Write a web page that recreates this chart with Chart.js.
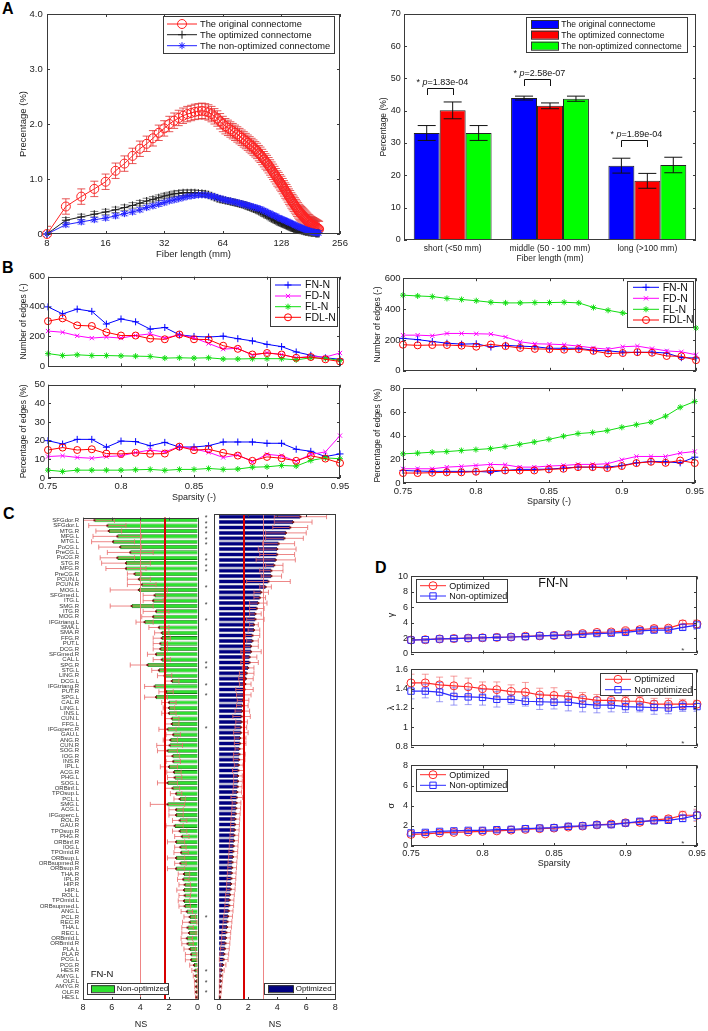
<!DOCTYPE html>
<html>
<head>
<meta charset="utf-8">
<script src="https://cdn.jsdelivr.net/npm/chart.js"></script>
<style>
  body { margin: 0; background: #fff; overflow: hidden; }
  #figure { position: relative; width: 708px; height: 1031px; overflow: hidden; background: #fff; }
  #figure canvas { position: absolute; }
  .tag { position: absolute; font: bold 16px "Liberation Sans", Arial, sans-serif; line-height: 1; color: #000; }
</style>
</head>
<body>
<div id="figure">
  <div class="tag" style="left:2px;top:1px">A</div>
  <div class="tag" style="left:2px;top:260px">B</div>
  <div class="tag" style="left:3px;top:506px">C</div>
  <div class="tag" style="left:375px;top:560px">D</div>
</div>
<script>
// ---- panel A (left): fibre length distribution ----
const fiberLength = [8,10,12,14,16,18,20,22,24,26,28,30,32,34,36,38,40,42,44,46,48,50,52,54,56,58,60,62,64,66,68,70,72,74,76,78,80,82,84,86,88,90,92,94,96,98,100,102,104,106,108,110,112,114,116,118,120,122,124,126,128,130,132,134,136,138,140,142,144,146,148,150,152,154,156,158,160,162,164,166,168,170,172,174,176,178,180,182,184,186,188,190,192,194,196,198,200];
const fiberTicks = [8, 16, 32, 64, 128, 256];
const originalPct = [0,0.50,0.68,0.82,0.95,1.15,1.28,1.42,1.55,1.64,
  1.74,1.84,1.92,2.00,2.06,2.11,2.15,2.18,2.20,2.22,
  2.23,2.24,2.23,2.21,2.18,2.14,2.10,2.05,2.00,1.96,
  1.93,1.90,1.87,1.84,1.81,1.78,1.75,1.72,1.69,1.66,
  1.63,1.60,1.57,1.54,1.51,1.47,1.44,1.40,1.36,1.32,
  1.29,1.25,1.21,1.17,1.13,1.09,1.05,1.01,0.98,0.94,
  0.91,0.87,0.83,0.79,0.76,0.72,0.68,0.65,0.61,0.58,
  0.55,0.52,0.49,0.46,0.43,0.40,0.38,0.36,0.34,0.32,
  0.30,0.28,0.26,0.24,0.22,0.21,0.19,0.18,0.17,0.16,
  0.15,0.14,0.13,0.12,0.11,0.10,0.09];
const optimizedPct = [0,0.25,0.31,0.36,0.40,0.44,0.48,0.52,0.56,0.60,
  0.63,0.66,0.69,0.71,0.73,0.74,0.75,0.75,0.75,0.75,
  0.74,0.74,0.73,0.71,0.69,0.67,0.65,0.63,0.62,0.61,
  0.60,0.59,0.58,0.57,0.56,0.55,0.54,0.53,0.52,0.50,
  0.49,0.48,0.46,0.45,0.44,0.42,0.41,0.39,0.37,0.36,
  0.34,0.33,0.31,0.29,0.28,0.26,0.25,0.24,0.22,0.21,
  0.20,0.19,0.18,0.17,0.16,0.15,0.14,0.13,0.12,0.11,
  0.10,0.10,0.09,0.08,0.08,0.07,0.07,0.06,0.06,0.05,
  0.05,0.04,0.04,0.04,0.03,0.03,0.03,0.02,0.02,0.02,
  0.02,0.02,0.01,0.01,0.01,0.01,0.01];
const nonOptimizedPct = [0,0.17,0.22,0.26,0.29,0.33,0.37,0.40,0.44,0.48,
  0.51,0.54,0.57,0.60,0.62,0.64,0.66,0.68,0.69,0.70,
  0.71,0.71,0.71,0.70,0.69,0.68,0.66,0.65,0.63,0.62,
  0.61,0.60,0.59,0.58,0.57,0.56,0.55,0.54,0.53,0.52,
  0.51,0.50,0.49,0.48,0.47,0.46,0.45,0.43,0.42,0.41,
  0.39,0.38,0.37,0.35,0.34,0.33,0.32,0.30,0.29,0.28,
  0.27,0.26,0.25,0.24,0.23,0.22,0.21,0.20,0.19,0.18,
  0.17,0.16,0.15,0.14,0.13,0.12,0.12,0.11,0.10,0.09,
  0.09,0.08,0.07,0.07,0.06,0.06,0.05,0.05,0.04,0.04,
  0.03,0.03,0.03,0.02,0.02,0.02,0.02];
const originalErr = 0.14;
const optimizedErr = 0.05;
const nonOptimizedErr = 0.04;

// ---- panel A (right): length classes ----
const lengthGroups = ["short (<50 mm)", "middle (50 - 100 mm)", "long (>100 mm)"];
const groupOriginal = [33.1, 43.9, 23.0];
const groupOriginalErr = [2.3, 0.6, 2.3];
const groupOptimized = [40.1, 41.5, 18.3];
const groupOptimizedErr = [2.6, 0.9, 2.3];
const groupNonOptimized = [33.1, 43.7, 23.2];
const groupNonOptimizedErr = [2.3, 0.8, 2.4];
const pValues = ["1.83e-04", "2.58e-07", "1.89e-04"];
const bracketLevel = [47.0, 49.8, 30.8];

// ---- panel B: edges per sparsity ----
const sparsity = [0.75,0.76,0.77,0.78,0.79,0.80,0.81,0.82,0.83,0.84,0.85,0.86,0.87,0.88,0.89,0.90,0.91,0.92,0.93,0.94,0.95];
const sparsityTicks = [0.75, 0.8, 0.85, 0.9, 0.95];
const fnEdgesL = [398,351,383,368,283,317,298,249,260,211,200,196,202,185,170,147,132,96,74,57,47];
const fdEdgesL = [236,228,204,189,196,189,206,217,189,211,191,153,115,121,74,91,79,57,66,62,89];
const flEdgesL = [85,72,77,72,72,70,68,66,55,57,55,57,49,49,51,51,51,43,57,53,40];
const fdlEdgesL = [302,321,274,270,228,206,206,185,181,213,181,179,138,117,79,89,79,57,62,47,32];
const fnPctL = [20,18.2,20.7,20.7,16.5,19.8,19.5,17.3,19.1,16.6,16.6,17.3,19.3,19.3,19.3,18.6,18.6,15.4,14.3,11.5,12.9];
const fdPctL = [11.5,11.9,11,10.6,11.5,11.9,13.6,15,14,16.8,15.6,13.8,11,12.4,8.7,12.7,11.9,9,12.6,14,22.7];
const flPctL = [4.2,3.5,4.2,4.2,4.2,4.2,4.4,4.6,4.1,4.6,4.6,5.1,4.6,4.8,5.8,6,6.7,6.4,9.4,10.8,10.3];
const fdlPctL = [15,16.3,15,15.4,13.1,12.9,13.5,12.9,13.1,16.8,14.9,15.4,13.5,12,9.2,11.3,10.6,9.2,11.9,10.4,8];
const fnEdgesR = [210,202,190,179,173,175,154,165,160,156,146,146,146,133,129,121,119,121,115,85,83];
const fdEdgesR = [231,231,227,242,242,240,238,219,188,175,173,169,160,148,140,156,160,144,129,123,104];
const flEdgesR = [490,485,481,469,462,454,444,440,440,442,442,444,440,410,392,375,360,345,330,305,277];
const fdlEdgesR = [169,165,167,167,163,156,171,160,148,142,140,137,140,129,112,115,121,117,96,94,69];
const fnPctR = [10.6,10.1,9.8,9.8,9.8,9.8,9.2,10.6,11.5,11.5,11.7,12.6,13.4,13.4,13.4,14.8,17,18.2,17.9,17,21.8];
const fdPctR = [12,12,12,13.4,14,14.8,15.7,15.4,13.4,13.4,14.3,14.8,15.7,15.7,16.2,19.6,22.4,22.4,22.4,25.2,26.6];
const flPctR = [24.6,25.2,26,26.5,27.4,28.2,29,30.7,32.6,34.6,36.8,39.5,41.7,42.6,44.2,47,49.2,51.4,56.4,63.9,68.8];
const fdlPctR = [8.4,8.4,8.7,9,9,9.5,10.6,10.6,10.6,10.6,11.5,12,13.4,13.4,12.6,14.3,16.8,17.9,17,19,16.8];

// ---- panel C: nodal NS per region ----
const regions = ["SFGdor.R","SFGdor.L","MTG.R","MFG.L","MTG.L","PoCG.L","PreCG.L","PoCG.R","STG.R","MFG.R",
  "PreCG.R","PCUN.L","PCUN.R","MOG.L","SFGmed.L","ITG.L","SMG.R","ITG.R","MOG.R","IFGtriang.L",
  "SMA.L","SMA.R","FFG.R","PUT.L","DCG.R","SFGmed.R","CAL.L","SPG.R","STG.L","LING.R",
  "DCG.L","IFGtriang.R","PUT.R","SPG.L","CAL.R","LING.L","INS.L","CUN.L","FFG.L","IFGoperc.R",
  "GAU.L","ANG.R","CUN.R","SOG.R","IOG.R","INS.R","IPL.L","ACG.R","PHG.L","SOG.L",
  "ORBinf.L","TPOsup.L","PCL.L","SMG.L","ACG.L","IFGoperc.L","ROL.R","GAU.R","TPOsup.R","PHG.R",
  "ORBinf.R","IOG.L","TPOmid.R","ORBsup.L","ORBsupmed.R","ORBsup.R","THA.R","IPL.R","HIP.R","HIP.L",
  "ROL.L","TPOmid.L","ORBsupmed.L","ANG.L","PCL.R","REC.R","THA.L","REC.L","ORBmid.L","ORBmid.R",
  "PLA.L","PLA.R","PCG.L","PCG.R","HES.R","AMYG.L","OLF.L","AMYG.R","OLF.R","HES.L"];
const nonOptNS = [7.2,6.3,6.2,5.6,5.9,5.4,4.7,5.6,5.0,5.0,
  4.4,4.1,3.9,4.1,3.0,3.1,4.6,2.9,3.1,3.7,
  2.7,2.5,2.5,2.6,2.6,2.9,2.5,3.5,2.7,2.3,
  1.8,3.0,2.2,2.9,2.0,2.0,2.0,1.8,1.8,2.1,
  1.7,1.9,1.95,2.1,1.75,1.7,2.0,1.65,1.6,2.1,
  1.75,1.5,1.25,2.1,1.5,1.5,1.25,1.6,1.25,1.1,
  1.5,1.2,1.15,1.5,1.2,1.5,0.95,1.0,0.9,0.95,
  0.9,0.95,0.9,0.75,0.55,0.55,0.7,0.6,0.75,0.7,
  0.55,0.45,0.45,0.25,0.2,0.15,0.12,0.1,0.1,0.08];
const nonOptErr = [1.4,1.3,0.9,1.7,1.5,1.5,1.6,1.2,1.7,1.4,
  0.5,0.8,1.0,2.0,0.8,0.7,1.5,0.9,0.8,0.6,
  0.7,0.5,0.6,0.5,0.5,0.6,0.6,1.2,0.5,0.5,
  0.5,0.7,0.5,0.8,0.5,0.4,0.5,0.5,0.5,0.6,
  0.5,0.5,0.9,0.7,0.5,0.5,0.6,0.5,0.5,0.7,
  0.5,0.4,0.4,1.2,0.5,0.5,0.5,0.6,0.5,0.5,
  0.6,0.4,0.5,0.6,0.4,0.6,0.4,0.4,0.4,0.5,
  0.4,0.4,0.4,0.4,0.4,0.5,0.4,0.5,0.4,0.4,
  0.4,0.4,0.4,0.3,0.2,0.15,0.1,0.1,0.08,0.06];
const optNS = [5.6,5.1,4.9,4.6,4.5,4.1,4.0,4.0,3.9,3.8,
  3.6,3.6,3.4,3.2,2.9,2.8,2.7,2.6,2.5,2.5,
  2.4,2.4,2.3,2.3,2.2,2.2,2.1,2.1,2.0,1.9,
  1.85,1.8,1.75,1.7,1.65,1.6,1.6,1.55,1.55,1.5,
  1.5,1.45,1.45,1.4,1.4,1.38,1.35,1.33,1.3,1.3,
  1.28,1.25,1.22,1.2,1.18,1.15,1.12,1.1,1.08,1.05,
  1.03,1.0,0.98,0.95,0.92,0.9,0.87,0.85,0.82,0.8,
  0.75,0.72,0.7,0.66,0.62,0.58,0.55,0.5,0.47,0.44,
  0.4,0.36,0.32,0.27,0.2,0.15,0.12,0.1,0.08,0.06];
const optErr = [1.8,1.3,1.2,1.4,1.3,1.1,1.3,1.2,1.35,0.6,
  0.8,0.7,1.5,0.4,0.5,0.4,0.6,0.5,0.4,0.6,
  0.3,0.4,0.5,0.4,0.5,0.7,0.5,0.6,0.4,0.5,
  0.5,0.4,0.6,0.5,0.4,0.4,0.5,0.6,0.4,0.4,
  0.5,0.4,0.4,0.3,0.4,0.4,0.3,0.4,0.3,0.3,
  0.3,0.3,0.4,0.3,0.3,0.3,0.3,0.3,0.3,0.3,
  0.3,0.3,0.3,0.3,0.3,0.3,0.3,0.3,0.3,0.3,
  0.3,0.3,0.3,0.3,0.3,0.3,0.3,0.3,0.3,0.3,
  0.3,0.3,0.3,0.2,0.15,0.1,0.1,0.08,0.06,0.05];
const nsTicks = [0, 2, 4, 6, 8];
const nonOptThreshold = [2.25, 4.0];
const optThreshold = [1.7, 3.0];
const starRows = [1,2,3,4,5,6,8,9,10,11,14,17,20,28,29,32,34,40,75,85,87,89];

// ---- panel D: small-world metrics ----
const gammaOpt = [1.76,1.8,1.9,1.95,2.0,2.05,2.1,2.15,2.25,2.3,2.35,2.45,2.6,2.75,2.8,2.95,3.1,3.25,3.3,3.85,3.85];
const gammaNon = [1.75,1.8,1.9,1.95,2.0,2.05,2.1,2.15,2.2,2.3,2.35,2.4,2.5,2.6,2.65,2.75,2.95,3.05,3.05,3.4,3.7];
const gammaOptErr = [0.15,0.15,0.15,0.15,0.15,0.15,0.15,0.15,0.15,0.15,0.18,0.2,0.2,0.25,0.25,0.35,0.3,0.35,0.3,0.45,0.5];
const gammaNonErr = [0.12,0.12,0.12,0.12,0.12,0.12,0.12,0.12,0.15,0.15,0.15,0.15,0.2,0.2,0.2,0.25,0.3,0.3,0.3,0.35,0.55];
const lambdaOpt = [1.46,1.46,1.44,1.43,1.42,1.40,1.39,1.37,1.365,1.335,1.33,1.32,1.30,1.28,1.28,1.27,1.27,1.24,1.24,1.24,1.24];
const lambdaNon = [1.375,1.375,1.365,1.32,1.315,1.31,1.29,1.29,1.27,1.265,1.26,1.26,1.24,1.23,1.23,1.215,1.21,1.205,1.2,1.215,1.215];
const lambdaOptErr = [0.09,0.09,0.08,0.1,0.09,0.07,0.08,0.07,0.1,0.07,0.08,0.06,0.06,0.06,0.05,0.05,0.05,0.06,0.06,0.05,0.04];
const lambdaNonErr = [0.08,0.07,0.1,0.09,0.08,0.08,0.08,0.05,0.05,0.08,0.07,0.09,0.08,0.08,0.07,0.06,0.05,0.07,0.06,0.05,0.05];
const sigmaOpt = [1.15,1.2,1.3,1.35,1.4,1.45,1.5,1.58,1.65,1.72,1.78,1.88,1.98,2.1,2.18,2.3,2.35,2.6,2.7,3.05,3.05];
const sigmaNon = [1.3,1.35,1.45,1.5,1.55,1.55,1.62,1.65,1.72,1.78,1.82,1.95,2.0,2.1,2.12,2.28,2.45,2.5,2.55,2.75,3.05];
const sigmaOptErr = [0.12,0.12,0.15,0.15,0.15,0.15,0.15,0.15,0.15,0.15,0.15,0.2,0.2,0.2,0.2,0.25,0.25,0.35,0.3,0.4,0.6];
const sigmaNonErr = [0.1,0.1,0.12,0.12,0.12,0.12,0.12,0.12,0.12,0.15,0.15,0.15,0.15,0.2,0.2,0.2,0.25,0.25,0.3,0.35,0.5];
const starSparsity = 0.94;
const starLevel = [0.5, 0.84, 0.4];

const FONT = '"Liberation Sans", Arial, sans-serif';
Chart.defaults.font.family = FONT;
Chart.defaults.color = "#222";
Chart.defaults.animation = false;
Chart.defaults.events = [];
Chart.defaults.plugins.legend.display = false;
Chart.defaults.plugins.tooltip.enabled = false;

// MATLAB-like box with inward ticks on all four sides
Chart.register({
  id: "matlabAxes",
  afterDraw(chart) {
    const ctx = chart.ctx, a = chart.chartArea;
    ctx.save();
    ctx.strokeStyle = "#3a3a3a";
    ctx.lineWidth = 1;
    for (const id of ["x", "y"]) {
      const s = chart.scales[id];
      if (!s || s.type === "category") continue;
      s.ticks.forEach(t => {
        const p = Math.round(s.getPixelForValue(t.value)) + 0.5;
        ctx.beginPath();
        if (s.isHorizontal()) {
          ctx.moveTo(p, a.bottom); ctx.lineTo(p, a.bottom - 3);
          ctx.moveTo(p, a.top); ctx.lineTo(p, a.top + 3);
        } else {
          ctx.moveTo(a.left, p); ctx.lineTo(a.left + 3, p);
          ctx.moveTo(a.right, p); ctx.lineTo(a.right - 3, p);
        }
        ctx.stroke();
      });
    }
    ctx.strokeRect(Math.round(a.left) + 0.5, Math.round(a.top) + 0.5, Math.round(a.width) - 1, Math.round(a.height) - 1);
    ctx.restore();
  }
});

function axis(min, max, ticks, extra) {
  return Object.assign({
    type: "linear", min: min, max: max,
    grid: { display: false, drawTicks: false },
    border: { display: false },
    afterBuildTicks: s => { s.ticks = ticks.map(v => ({ value: v })); },
    ticks: { autoSkip: false, maxRotation: 0, callback: v => String(+v.toFixed(2)) }
  }, extra || {});
}

function categoryAxis(extra) {
  return Object.assign({
    type: "category",
    grid: { display: false, drawTicks: false },
    border: { display: false },
    ticks: { autoSkip: false, maxRotation: 0 }
  }, extra || {});
}

function buildChart(id, spec, config) {
  const p = spec.plot, m = spec.margin;
  var canvas = document.createElement("canvas");
  canvas.id = id;
  canvas.width = p.w + m.l + m.r;
  canvas.height = p.h + m.t + m.b;
  canvas.style.left = (p.x - m.l) + "px";
  canvas.style.top = (p.y - m.t) + "px";
  document.getElementById("figure").append(canvas);

  const x = config.options.scales.x, y = config.options.scales.y;
  x.afterFit = s => { s.height = m.b; };
  y.afterFit = s => { s.width = m.l; };
  if (spec.xLabels) {
    x.ticks.font = { size: spec.xLabels.size };
    x.ticks.padding = spec.xLabels.at - (p.y + p.h) - spec.xLabels.size * 0.6;
  } else {
    x.ticks.display = false;
  }
  if (spec.yLabels) {
    y.ticks.font = { size: spec.yLabels.size };
    y.ticks.padding = p.x - spec.yLabels.at;
  } else {
    y.ticks.display = false;
  }
  if (spec.xTitle) {
    x.title = { display: true, text: spec.xTitle.text, color: "#222", font: { size: spec.xTitle.size },
      padding: { top: 0, bottom: p.y + p.h + m.b - spec.xTitle.at - spec.xTitle.size * 0.6 } };
  }
  if (spec.yTitle) {
    y.title = { display: true, text: spec.yTitle.text, color: "#222", font: { size: spec.yTitle.size },
      padding: { top: spec.yTitle.at - (p.x - m.l) - spec.yTitle.size * 0.6, bottom: 0 } };
  }
  config.options.layout = { padding: { top: m.t, right: m.r, left: 0, bottom: 0 } };
  config.options.responsive = false;
  config.options.maintainAspectRatio = false;
  return new Chart(canvas, config);
}

function pageOrigin(chart) {
  return [parseFloat(chart.canvas.style.left), parseFloat(chart.canvas.style.top)];
}

function errorBars(sets, cap, onTop) {
  const draw = chart => {
    const ctx = chart.ctx, a = chart.chartArea;
    const horizontal = chart.options.indexAxis === "y";
    const vScale = horizontal ? chart.scales.x : chart.scales.y;
    ctx.save();
    ctx.beginPath();
    ctx.rect(a.left, a.top, a.width, a.height);
    ctx.clip();
    ctx.lineWidth = 1;
    for (const set of sets) {
      const meta = chart.getDatasetMeta(set.dataset);
      const values = chart.data.datasets[set.dataset].data;
      ctx.strokeStyle = set.color;
      meta.data.forEach((el, i) => {
        const raw = values[i];
        const v = typeof raw === "object" ? raw.y : raw;
        const e = Array.isArray(set.errors) ? set.errors[i] : set.errors;
        const lo = vScale.getPixelForValue(v - e), hi = vScale.getPixelForValue(v + e);
        ctx.beginPath();
        if (horizontal) {
          ctx.moveTo(lo, el.y); ctx.lineTo(hi, el.y);
          ctx.moveTo(lo, el.y - cap); ctx.lineTo(lo, el.y + cap);
          ctx.moveTo(hi, el.y - cap); ctx.lineTo(hi, el.y + cap);
        } else {
          ctx.moveTo(el.x, lo); ctx.lineTo(el.x, hi);
          ctx.moveTo(el.x - cap, lo); ctx.lineTo(el.x + cap, lo);
          ctx.moveTo(el.x - cap, hi); ctx.lineTo(el.x + cap, hi);
        }
        ctx.stroke();
      });
    }
    ctx.restore();
  };
  return onTop ? { id: "errorBars", afterDatasetsDraw: draw } : { id: "errorBars", beforeDatasetsDraw: draw };
}

function drawMarker(ctx, ds, x, y) {
  ctx.fillStyle = "rgba(0,0,0,0)";
  ctx.strokeStyle = ds.pointBorderColor || ds.borderColor;
  ctx.lineWidth = 1;
  Chart.helpers.drawPoint(ctx, { pointStyle: ds.pointStyle, radius: ds.pointRadius, borderWidth: 1, rotation: 0 }, x, y);
}

// boxed legend, geometry given in page pixels
function boxLegend(box, fontSize) {
  return {
    id: "boxLegend",
    afterDraw(chart) {
      const ctx = chart.ctx, o = pageOrigin(chart);
      ctx.save();
      ctx.translate(-o[0], -o[1]);
      ctx.fillStyle = "#fff";
      ctx.fillRect(box.x, box.y, box.w, box.h);
      ctx.strokeStyle = "#3a3a3a";
      ctx.lineWidth = 1;
      ctx.strokeRect(box.x + 0.5, box.y + 0.5, box.w, box.h);
      ctx.font = fontSize + "px " + FONT;
      ctx.textBaseline = "middle";
      box.rows.forEach((y, i) => {
        const ds = chart.data.datasets[box.datasets[i]];
        if (box.patch) {
          ctx.fillStyle = ds.backgroundColor;
          ctx.fillRect(box.sample[0], y - box.patch / 2, box.sample[1] - box.sample[0], box.patch);
          ctx.strokeStyle = "#333";
          ctx.strokeRect(box.sample[0] + 0.5, y - box.patch / 2 + 0.5, box.sample[1] - box.sample[0], box.patch);
        } else {
          ctx.strokeStyle = ds.borderColor;
          ctx.lineWidth = 1;
          ctx.beginPath();
          ctx.moveTo(box.sample[0], y); ctx.lineTo(box.sample[1], y);
          ctx.stroke();
          drawMarker(ctx, ds, (box.sample[0] + box.sample[1]) / 2, y);
        }
        ctx.fillStyle = "#111";
        ctx.fillText(ds.label, box.textX, y + 0.5);
      });
      ctx.restore();
    }
  };
}

function caption(text, x, y, size, align) {
  return {
    id: "caption",
    afterDraw(chart) {
      const ctx = chart.ctx, o = pageOrigin(chart);
      ctx.save();
      ctx.font = size + "px " + FONT;
      ctx.fillStyle = "#111";
      ctx.textAlign = align;
      ctx.textBaseline = "middle";
      ctx.fillText(text, x - o[0], y - o[1]);
      ctx.restore();
    }
  };
}

function points(values) {
  return sparsity.map((s, i) => ({ x: s, y: values[i] }));
}

function lineSet(label, values, color, style, radius, order) {
  return {
    label: label, data: points(values), borderColor: color, borderWidth: 1,
    pointStyle: style, pointRadius: radius, pointBorderColor: color, pointBorderWidth: 1,
    pointBackgroundColor: "rgba(0,0,0,0)", tension: 0, clip: false, order: order
  };
}

// ================= A left =================
function drawFiberDistribution() {
  const xy = values => fiberLength.map((f, i) => ({ x: f, y: values[i] }));
  const series = (label, values, color, style, radius, order) => ({
    label: label, data: xy(values), borderColor: color, borderWidth: 1,
    pointStyle: style, pointRadius: radius, pointBorderColor: color, pointBorderWidth: 1,
    pointBackgroundColor: "rgba(0,0,0,0)", tension: 0, clip: false, order: order
  });
  buildChart("fiber-distribution", {
    plot: { x: 47, y: 12, w: 293, h: 222 }, margin: { l: 46, r: 14, t: 8, b: 26 },
    xLabels: { size: 9.5, at: 243 }, yLabels: { size: 9.5, at: 42.7 },
    xTitle: { text: "Fiber length (mm)", size: 9.5, at: 254 },
    yTitle: { text: "Precentage (%)", size: 9.5, at: 23.3 }
  }, {
    type: "line",
    data: { datasets: [
      series("The original connectome", originalPct, "#ff2020", "circle", 4.5, 2),
      series("The optimized connectome", optimizedPct, "#1e1e1e", "cross", 4, 1),
      series("The non-optimized connectome", nonOptimizedPct, "#2020ff", "star", 3.5, 0)
    ] },
    options: { scales: {
      x: axis(8, 256, fiberTicks, { type: "logarithmic" }),
      y: axis(0, 4, [0, 1, 2, 3, 4], { ticks: { callback: v => v === 0 ? "0" : v.toFixed(1) } })
    } },
    plugins: [
      errorBars([
        { dataset: 0, errors: originalErr, color: "rgba(225,45,45,0.8)" },
        { dataset: 1, errors: optimizedErr, color: "rgba(40,40,40,0.6)" },
        { dataset: 2, errors: nonOptimizedErr, color: "rgba(60,60,255,0.6)" }
      ], 4, false),
      boxLegend({ x: 163, y: 16, w: 171, h: 37, rows: [24, 34.7, 45.7], datasets: [0, 1, 2],
        sample: [167, 197], textX: 200 }, 9.3)
    ]
  });
}

// ================= A right =================
const pBrackets = {
  id: "pBrackets",
  afterDatasetsDraw(chart) {
    const ctx = chart.ctx, y = chart.scales.y;
    const first = chart.getDatasetMeta(0), second = chart.getDatasetMeta(1);
    ctx.save();
    ctx.strokeStyle = "#111";
    ctx.fillStyle = "#111";
    ctx.lineWidth = 1;
    pValues.forEach((p, j) => {
      const x0 = Math.round(first.data[j].x) + 0.5, x1 = Math.round(second.data[j].x) + 0.5;
      const yl = Math.round(y.getPixelForValue(bracketLevel[j])) + 0.5;
      ctx.beginPath();
      ctx.moveTo(x0, yl + 6.5); ctx.lineTo(x0, yl); ctx.lineTo(x1, yl); ctx.lineTo(x1, yl + 6.5);
      ctx.stroke();
      let tx = x0 - 11;
      const ty = yl - 3.5;
      ctx.textBaseline = "alphabetic";
      ctx.font = "9px " + FONT;
      ctx.fillText("* ", tx, ty);
      tx += ctx.measureText("* ").width;
      ctx.font = "italic 9px " + FONT;
      ctx.fillText("p", tx, ty);
      tx += ctx.measureText("p").width;
      ctx.font = "9px " + FONT;
      ctx.fillText("=" + p, tx, ty);
    });
    ctx.restore();
  }
};

function drawLengthClasses() {
  const bars = (label, values, color) => ({
    label: label, data: values, backgroundColor: color, borderColor: "#222", borderWidth: 1,
    categoryPercentage: 0.8, barPercentage: 1.0
  });
  buildChart("length-classes", {
    plot: { x: 404, y: 13, w: 292, h: 227 }, margin: { l: 40, r: 10, t: 8, b: 26 },
    xLabels: { size: 8.5, at: 248.3 }, yLabels: { size: 9, at: 400.7 },
    xTitle: { text: "Fiber length (mm)", size: 8.5, at: 258.3 },
    yTitle: { text: "Percentage (%)", size: 8.5, at: 384 }
  }, {
    type: "bar",
    data: { labels: lengthGroups, datasets: [
      bars("The original connectome", groupOriginal, "#0000ff"),
      bars("The optimized connectome", groupOptimized, "#ff0000"),
      bars("The non-optimized connectome", groupNonOptimized, "#00ff00")
    ] },
    options: { scales: {
      x: categoryAxis(),
      y: axis(0, 70, [0, 10, 20, 30, 40, 50, 60, 70])
    } },
    plugins: [
      errorBars([
        { dataset: 0, errors: groupOriginalErr, color: "#111" },
        { dataset: 1, errors: groupOptimizedErr, color: "#111" },
        { dataset: 2, errors: groupNonOptimizedErr, color: "#111" }
      ], 9, true),
      pBrackets,
      boxLegend({ x: 526, y: 17, w: 161, h: 35, rows: [24, 34.7, 45.7], datasets: [0, 1, 2],
        sample: [531, 558], patch: 8, textX: 561.3 }, 8.6)
    ]
  });
}

// ================= B =================
function drawEdgePanel(id, spec, series, yMax, yTicks, legend) {
  return buildChart(id, spec, {
    type: "line",
    data: { datasets: [
      lineSet("FN-N", series[0], "#0000ff", "cross", 3.5, 3),
      lineSet("FD-N", series[1], "#ff00ff", "crossRot", 3, 2),
      lineSet("FL-N", series[2], "#11dd11", "star", 3, 1),
      lineSet("FDL-N", series[3], "#ff0000", "circle", 3.5, 0)
    ] },
    options: { scales: {
      x: axis(0.75, 0.95, sparsityTicks),
      y: axis(0, yMax, yTicks)
    } },
    plugins: legend ? [boxLegend(legend, 10.5)] : []
  });
}

function drawEdgeCounts() {
  drawEdgePanel("edges-left-count", {
    plot: { x: 48, y: 275, w: 292, h: 94 }, margin: { l: 46, r: 14, t: 7, b: 6 },
    yLabels: { size: 9.5, at: 45 }, yTitle: { text: "Number of edges (-)", size: 8.5, at: 23.3 }
  }, [fnEdgesL, fdEdgesL, flEdgesL, fdlEdgesL], 600, [0, 200, 400, 600],
    { x: 270, y: 277, w: 67, h: 49, rows: [285, 296, 306.7, 317.3], datasets: [0, 1, 2, 3], sample: [275, 301], textX: 305 });

  drawEdgePanel("edges-left-pct", {
    plot: { x: 48, y: 383, w: 292, h: 95 }, margin: { l: 46, r: 14, t: 7, b: 26 },
    xLabels: { size: 9.5, at: 486.7 }, yLabels: { size: 9.5, at: 45 },
    xTitle: { text: "Sparsity (-)", size: 9, at: 497.7 },
    yTitle: { text: "Percentage of edges (%)", size: 8.5, at: 23.3 }
  }, [fnPctL, fdPctL, flPctL, fdlPctL], 50, [0, 10, 20, 30, 40, 50], null);

  drawEdgePanel("edges-right-count", {
    plot: { x: 403, y: 277, w: 293, h: 96 }, margin: { l: 40, r: 11, t: 7, b: 6 },
    yLabels: { size: 9.5, at: 400.5 }, yTitle: { text: "Number of edges (-)", size: 8.5, at: 377.3 }
  }, [fnEdgesR, fdEdgesR, flEdgesR, fdlEdgesR], 600, [0, 200, 400, 600],
    { x: 627, y: 281, w: 66, h: 46, rows: [287.3, 298.3, 309.3, 320], datasets: [0, 1, 2, 3], sample: [633, 659], textX: 662.7 });

  drawEdgePanel("edges-right-pct", {
    plot: { x: 403, y: 387, w: 293, h: 96 }, margin: { l: 40, r: 11, t: 7, b: 26 },
    xLabels: { size: 9.5, at: 491.7 }, yLabels: { size: 9.5, at: 400.5 },
    xTitle: { text: "Sparsity (-)", size: 9, at: 501.7 },
    yTitle: { text: "Percentage of edges (%)", size: 8.5, at: 377.3 }
  }, [fnPctR, fdPctR, flPctR, fdlPctR], 80, [0, 20, 40, 60, 80], null);
}

// ================= C =================
function nsGuides(thresholds, withStars) {
  return {
    id: "nsGuides",
    afterDatasetsDraw(chart) {
      const ctx = chart.ctx, a = chart.chartArea, x = chart.scales.x, y = chart.scales.y;
      ctx.save();
      ctx.fillStyle = "#7a1414";
      chart.getDatasetMeta(0).data.forEach(el => ctx.fillRect(el.x - 1, el.y - 1, 2, 2));
      ctx.strokeStyle = "rgba(236,120,120,0.9)";
      ctx.lineWidth = 1;
      let px = Math.round(x.getPixelForValue(thresholds[1])) + 0.5;
      ctx.beginPath(); ctx.moveTo(px, a.top); ctx.lineTo(px, a.bottom); ctx.stroke();
      ctx.strokeStyle = "#d80000";
      ctx.lineWidth = 2;
      px = Math.round(x.getPixelForValue(thresholds[0]));
      ctx.beginPath(); ctx.moveTo(px, a.top); ctx.lineTo(px, a.bottom); ctx.stroke();
      if (withStars) {
        ctx.fillStyle = "#333";
        ctx.font = "7px " + FONT;
        ctx.textAlign = "center";
        ctx.textBaseline = "middle";
        starRows.forEach(r => ctx.fillText("*", a.left - 8, y.getPixelForValue(r - 1) + 1.5));
      }
      ctx.restore();
    }
  };
}

function drawNodalNS() {
  buildChart("ns-non-optimized", {
    plot: { x: 83, y: 514, w: 116, h: 486 }, margin: { l: 80, r: 8, t: 4, b: 31 },
    xLabels: { size: 9, at: 1007.7 }, yLabels: { size: 6, at: 79 },
    xTitle: { text: "NS", size: 9, at: 1025 }
  }, {
    type: "bar",
    data: { labels: regions, datasets: [{
      label: "Non-optimized", data: nonOptNS, backgroundColor: "#2fe02f", borderColor: "#1b7e1b",
      borderWidth: 0.8, categoryPercentage: 1.0, barPercentage: 0.78
    }] },
    options: { indexAxis: "y", scales: {
      x: axis(-0.1, 8, nsTicks, { reverse: true }),
      y: categoryAxis({ ticks: { autoSkip: false, color: "#333" } })
    } },
    plugins: [
      errorBars([{ dataset: 0, errors: nonOptErr, color: "rgba(232,105,105,0.8)" }], 2.5, true),
      nsGuides(nonOptThreshold, false),
      caption("FN-N", 90.7, 974.3, 9.5, "left"),
      boxLegend({ x: 87, y: 983, w: 81, h: 11, rows: [988.7], datasets: [0], sample: [91, 114], patch: 7, textX: 116.7 }, 8)
    ]
  });

  buildChart("ns-optimized", {
    plot: { x: 214, y: 514, w: 122, h: 486 }, margin: { l: 14, r: 10, t: 4, b: 31 },
    xLabels: { size: 9, at: 1007.7 },
    xTitle: { text: "NS", size: 9, at: 1025 }
  }, {
    type: "bar",
    data: { labels: regions, datasets: [{
      label: "Optimized", data: optNS, backgroundColor: "#000080", borderColor: "#00005c",
      borderWidth: 0.6, categoryPercentage: 1.0, barPercentage: 0.78
    }] },
    options: { indexAxis: "y", scales: {
      x: axis(-0.35, 8.05, nsTicks),
      y: categoryAxis()
    } },
    plugins: [
      errorBars([{ dataset: 0, errors: optErr, color: "rgba(232,105,105,0.8)" }], 2.5, true),
      nsGuides(optThreshold, true),
      boxLegend({ x: 264, y: 983, w: 71, h: 11, rows: [988.7], datasets: [0], sample: [268, 293], patch: 7, textX: 295.7 }, 8)
    ]
  });
}

// ================= D =================
function starMark(level) {
  return {
    id: "starMark",
    afterDatasetsDraw(chart) {
      const ctx = chart.ctx;
      ctx.save();
      ctx.fillStyle = "#444";
      ctx.font = "8px " + FONT;
      ctx.textAlign = "center";
      ctx.textBaseline = "middle";
      ctx.fillText("*", chart.scales.x.getPixelForValue(starSparsity), chart.scales.y.getPixelForValue(level) + 1.5);
      ctx.restore();
    }
  };
}

function drawMetricPanel(id, spec, opt, non, optE, nonE, yMin, yMax, yTicks, level, legend, extra) {
  const plugins = [
    errorBars([
      { dataset: 0, errors: optE, color: "rgba(240,90,90,0.6)" },
      { dataset: 1, errors: nonE, color: "rgba(90,90,240,0.6)" }
    ], 3.5, false),
    starMark(level),
    boxLegend(legend, 9)
  ];
  if (extra) plugins.push(extra);
  buildChart(id, spec, {
    type: "line",
    data: { datasets: [
      Object.assign(lineSet("Optimized", opt, "#ff2a2a", "circle", 4, 1), { borderWidth: 1.2 }),
      Object.assign(lineSet("Non-optimized", non, "#2a2aff", "rect", 4.5, 0), { borderWidth: 1.2 })
    ] },
    options: { scales: {
      x: axis(0.75, 0.95, sparsityTicks),
      y: axis(yMin, yMax, yTicks)
    } },
    plugins: plugins
  });
}

function drawSmallWorld() {
  drawMetricPanel("gamma", {
    plot: { x: 411, y: 575, w: 286, h: 82 }, margin: { l: 30, r: 11, t: 7, b: 5 },
    yLabels: { size: 9, at: 408 }, yTitle: { text: "γ", size: 9, at: 391.7 }
  }, gammaOpt, gammaNon, gammaOptErr, gammaNonErr, 0, 10, [0, 2, 4, 6, 8, 10], starLevel[0],
    { x: 416, y: 579, w: 91, h: 23, rows: [585.7, 596], datasets: [0, 1], sample: [420, 446], textX: 449.3 },
    caption("FN-N", 553.3, 583.3, 12.5, "center"));

  drawMetricPanel("lambda", {
    plot: { x: 411, y: 668, w: 286, h: 82 }, margin: { l: 30, r: 11, t: 7, b: 5 },
    yLabels: { size: 9, at: 408 }, yTitle: { text: "λ", size: 9, at: 391.7 }
  }, lambdaOpt, lambdaNon, lambdaOptErr, lambdaNonErr, 0.8, 1.6, [0.8, 1, 1.2, 1.4, 1.6], starLevel[1],
    { x: 600, y: 673, w: 92, h: 22, rows: [679.3, 689.7], datasets: [0, 1], sample: [605, 631], textX: 634.3 });

  drawMetricPanel("sigma", {
    plot: { x: 411, y: 764, w: 286, h: 82 }, margin: { l: 30, r: 11, t: 7, b: 26 },
    xLabels: { size: 9, at: 853.3 }, yLabels: { size: 9, at: 408 },
    xTitle: { text: "Sparsity", size: 9, at: 864 },
    yTitle: { text: "σ", size: 9, at: 391.7 }
  }, sigmaOpt, sigmaNon, sigmaOptErr, sigmaNonErr, 0, 8, [0, 2, 4, 6, 8], starLevel[2],
    { x: 416, y: 769, w: 91, h: 22, rows: [774.7, 785.3], datasets: [0, 1], sample: [420, 446], textX: 449.3 });
}

drawFiberDistribution();
drawLengthClasses();
drawEdgeCounts();
drawNodalNS();
drawSmallWorld();
</script>
</body>
</html>
